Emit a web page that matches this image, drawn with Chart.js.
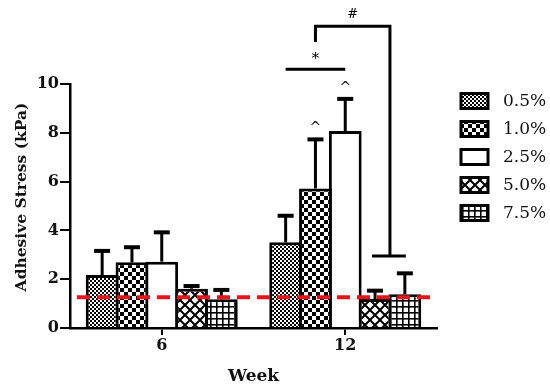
<!DOCTYPE html>
<html>
<head>
<meta charset="utf-8">
<script src="https://cdn.jsdelivr.net/npm/chart.js@4.4.1/dist/chart.umd.min.js"></script>
<style>
  html, body { margin: 0; padding: 0; background: #fff; }
  #wrap { width: 550px; height: 390px; }
</style>
</head>
<body>
<div id="wrap"><canvas id="chart" width="550" height="390"></canvas></div>
<script>
// Data (kPa)
const weeks = ['6', '12'];
const concentrations = ['0.5%', '1.0%', '2.5%', '5.0%', '7.5%'];
const stress05 = [2.17, 3.51];
const stress10 = [2.69, 5.72];
const stress25 = [2.72, 8.07];
const stress50 = [1.61, 1.19];
const stress75 = [1.18, 1.38];
const sd05 = [0.99, 1.09];
const sd10 = [0.62, 2.01];
const sd25 = [1.20, 1.32];
const sd50 = [0.11, 0.34];
const sd75 = [0.38, 0.86];
const controlLevel = 1.26;
const yTicks = [0, 2, 4, 6, 8, 10];

// annotation levels (in data units)
const starLevel = 10.6;
const hashTop = 12.37;
const hashLeftEnd = 11.72;
const hashRightEnd = 2.95;

const SERIF = "'DejaVu Serif', serif";

// --- hatch patterns ---
function makePattern(size, drawFn) {
  const c = document.createElement('canvas');
  c.width = size; c.height = size;
  const g = c.getContext('2d');
  drawFn(g, size);
  return g.createPattern(c, 'repeat');
}
const patFine = makePattern(4, (g) => {
  g.fillStyle = '#000'; g.fillRect(0, 0, 4, 4);
  g.fillStyle = '#fff'; g.fillRect(0, 0, 2, 2); g.fillRect(2, 2, 2, 2);
});
const patChecker = makePattern(8, (g) => {
  g.fillStyle = '#fff'; g.fillRect(0, 0, 8, 8);
  g.fillStyle = '#000'; g.fillRect(0, 0, 4, 4); g.fillRect(4, 4, 4, 4);
});
const patPlain = '#ffffff';
const patCross = makePattern(10, (g) => {
  g.fillStyle = '#fff'; g.fillRect(0, 0, 10, 10);
  g.strokeStyle = '#000'; g.lineWidth = 2;
  g.beginPath();
  g.moveTo(-2, -2); g.lineTo(12, 12);
  g.moveTo(12, -2); g.lineTo(-2, 12);
  g.stroke();
});
const patGrid = makePattern(6, (g) => {
  g.fillStyle = '#fff'; g.fillRect(0, 0, 6, 6);
  g.fillStyle = '#000'; g.fillRect(0, 0, 6, 1.6); g.fillRect(0, 0, 1.6, 6);
});

const seriesValues = [stress05, stress10, stress25, stress50, stress75];
const seriesErrors = [sd05, sd10, sd25, sd50, sd75];
const seriesFills = [patFine, patChecker, patPlain, patCross, patGrid];

// error bars, control line and significance marks
const overlayPlugin = {
  id: 'overlay',
  afterDatasetsDraw(chart) {
    const { ctx, chartArea } = chart;
    const y = chart.scales.y;
    ctx.save();
    ctx.strokeStyle = '#000';
    ctx.lineCap = 'butt';
    chart.data.datasets.forEach((ds, di) => {
      const meta = chart.getDatasetMeta(di);
      meta.data.forEach((bar, i) => {
        const top = y.getPixelForValue(ds.data[i] + ds.errors[i]);
        ctx.lineWidth = 3;
        ctx.beginPath();
        ctx.moveTo(bar.x, bar.y);
        ctx.lineTo(bar.x, top);
        ctx.stroke();
        ctx.lineWidth = 4;
        ctx.beginPath();
        ctx.moveTo(bar.x - 8, top);
        ctx.lineTo(bar.x + 8, top);
        ctx.stroke();
      });
    });

    // red dashed control line
    const cy = y.getPixelForValue(controlLevel);
    ctx.strokeStyle = '#e8141c';
    ctx.lineWidth = 4;
    ctx.setLineDash([13, 7]);
    ctx.beginPath();
    ctx.moveTo(chartArea.left + 7, cy);
    ctx.lineTo(chartArea.right - 5, cy);
    ctx.stroke();
    ctx.setLineDash([]);

    // significance marks for week 12
    const b = (di) => chart.getDatasetMeta(di).data[1];
    ctx.strokeStyle = '#000';
    ctx.lineWidth = 3;
    const sy = y.getPixelForValue(starLevel);
    const x1 = b(0).x, x3 = b(2).x;
    ctx.beginPath();
    ctx.moveTo(x1, sy); ctx.lineTo(x3, sy);
    ctx.stroke();

    const hx1 = (x1 + x3) / 2;
    const hx2 = (b(3).x + b(4).x) / 2;
    const ht = y.getPixelForValue(hashTop);
    ctx.beginPath();
    ctx.moveTo(hx1, y.getPixelForValue(hashLeftEnd));
    ctx.lineTo(hx1, ht);
    ctx.lineTo(hx2, ht);
    ctx.lineTo(hx2, y.getPixelForValue(hashRightEnd));
    ctx.stroke();
    const hb = y.getPixelForValue(hashRightEnd);
    ctx.beginPath();
    ctx.moveTo(b(3).x - 3, hb); ctx.lineTo(b(4).x + 1, hb);
    ctx.stroke();

    ctx.fillStyle = '#000';
    ctx.textAlign = 'center';
    ctx.textBaseline = 'middle';
    ctx.font = "15px " + SERIF;
    ctx.fillText('*', hx1, sy - 10);
    ctx.font = "13px " + SERIF;
    ctx.fillText('#', (hx1 + hx2) / 2, ht - 12);
    ctx.font = "14px " + SERIF;
    [1, 2].forEach((di) => {
      const ds = chart.data.datasets[di];
      const t = y.getPixelForValue(ds.data[1] + ds.errors[1]);
      ctx.fillText('^', b(di).x, t - 11);
    });
    ctx.restore();
  },
  afterDraw(chart) {
    const { ctx, chartArea } = chart;
    ctx.save();
    // y axis title, centred a little above the plot centre as in the figure
    ctx.translate(22, (chartArea.top + chartArea.bottom) / 2 - 9);
    ctx.rotate(-Math.PI / 2);
    ctx.fillStyle = '#111';
    ctx.font = "bold 15.5px " + SERIF;
    ctx.textAlign = 'center';
    ctx.textBaseline = 'middle';
    ctx.fillText('Adhesive Stress (kPa)', 0, 0);
    ctx.restore();

    // legend on the right
    ctx.save();
    chart.data.datasets.forEach((ds, di) => {
      const cy = 101 + di * 28;
      const bx = 461, bw = 27, bh = 15;
      ctx.fillStyle = ds.backgroundColor;
      ctx.fillRect(bx, cy - bh / 2, bw, bh);
      ctx.strokeStyle = '#000';
      ctx.lineWidth = 3;
      ctx.strokeRect(bx, cy - bh / 2, bw, bh);
      ctx.fillStyle = '#111';
      ctx.font = "17px " + SERIF;
      ctx.textAlign = 'left';
      ctx.textBaseline = 'middle';
      ctx.fillText(ds.label, 503, cy + 1);
    });
    ctx.restore();
  }
};

new Chart(document.getElementById('chart'), {
  type: 'bar',
  data: {
    labels: weeks,
    datasets: concentrations.map((label, i) => ({
      label: label,
      data: seriesValues[i],
      errors: seriesErrors[i],
      backgroundColor: seriesFills[i],
      borderColor: '#000',
      borderWidth: 3,
      borderSkipped: 'bottom',
      categoryPercentage: 0.812,
      barPercentage: 1.1,
    }))
  },
  plugins: [overlayPlugin],
  options: {
    responsive: false,
    animation: false,
    events: [],
    layout: { padding: { top: 84, right: 113, left: 0, bottom: 0 } },
    plugins: {
      legend: { display: false },
      tooltip: { enabled: false },
    },
    scales: {
      x: {
        afterFit(scale) { scale.height = 62; },
        grid: { drawOnChartArea: false, offset: false, color: '#000', lineWidth: 2, tickLength: 7 },
        border: { color: '#000', width: 2.5 },
        ticks: { color: '#111', font: { family: SERIF, size: 16, weight: 'bold' }, padding: 1 },
        title: {
          display: true, text: 'Week', color: '#111',
          font: { family: SERIF, size: 17, weight: 'bold' },
          padding: { top: 0, bottom: 3 }
        }
      },
      y: {
        min: 0, max: 10,
        afterFit(scale) { scale.width = 70; },
        afterBuildTicks(scale) { scale.ticks = yTicks.map(v => ({ value: v })); },
        grid: { drawOnChartArea: false, color: '#000', lineWidth: 2, tickLength: 10 },
        border: { color: '#000', width: 2.5 },
        ticks: { color: '#111', font: { family: SERIF, size: 16, weight: 'bold' }, padding: 1 },
        title: { display: false }
      }
    }
  }
});
</script>
</body>
</html>
